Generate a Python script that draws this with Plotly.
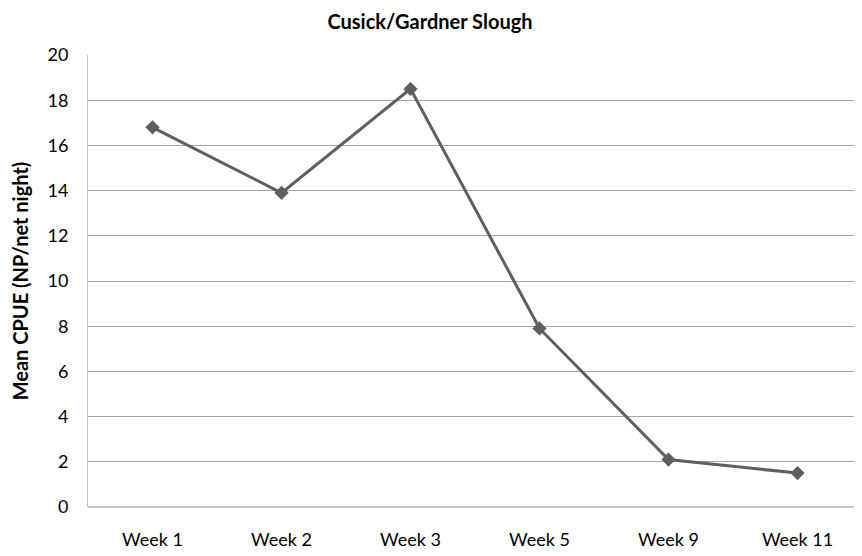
import plotly.graph_objects as go

categories = ["Week 1", "Week 2", "Week 3", "Week 5", "Week 9", "Week 11"]
cpue = [16.8, 13.9, 18.5, 7.9, 2.1, 1.5]

# The page body adds an 8px margin, so the figure is sized to fill the rest of the window.
W, H = 854, 548

fig = go.Figure()
fig.add_trace(go.Scatter(
    x=categories, y=cpue, mode="lines+markers",
    line=dict(color="#5f5f5f", width=3),
    marker=dict(symbol="diamond", size=11, color="#5f5f5f"),
    showlegend=False,
))

font_family = "Lato, 'Open Sans', sans-serif"
fig.update_layout(
    width=W, height=H,
    margin=dict(l=80, r=0, t=47, b=49),
    paper_bgcolor="white", plot_bgcolor="white",
    font=dict(family=font_family, color="#000000", size=18),
    title=dict(text="<b>Cusick/Gardner Slough</b>", x=422 / W, xanchor="center",
               xref="container", yref="container", y=1 - 14 / H, yanchor="middle",
               font=dict(size=20, family=font_family)),
)
fig.update_xaxes(
    type="category", range=[-0.5, 5.5], showgrid=False, showline=False, ticks="",
    tickfont=dict(size=18), ticklabelstandoff=20,
)
fig.update_yaxes(
    range=[0, 20], dtick=2, showgrid=True, gridcolor="#a6a6a6", gridwidth=1,
    showline=True, linecolor="#c4c4c4", linewidth=1, zeroline=True,
    zerolinecolor="#c8c8c8", zerolinewidth=2,
    ticks="", tickfont=dict(size=18), ticklabelstandoff=15,
    title=dict(text="<b>Mean CPUE (NP/net night)</b>", font=dict(size=20), standoff=16),
)
fig.write_html("out.html")
